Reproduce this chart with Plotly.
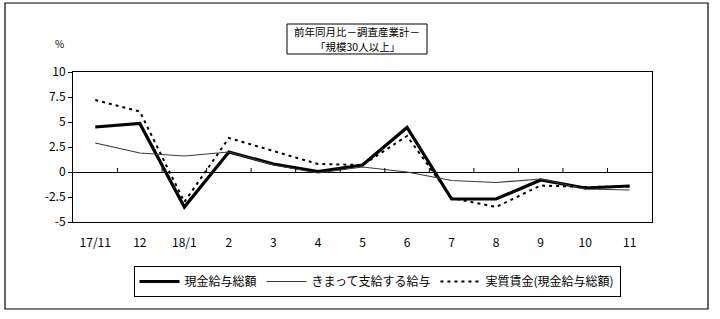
import plotly.graph_objects as go

categories = ["17/11", "12", "18/1", "2", "3", "4", "5", "6", "7", "8", "9", "10", "11"]
genkin = [4.5, 4.85, -3.5, 2.0, 0.8, 0.05, 0.7, 4.45, -2.7, -2.7, -0.8, -1.6, -1.4]
kimatte = [2.9, 1.9, 1.6, 2.0, 0.7, -0.1, 0.5, 0.0, -0.85, -1.05, -0.7, -1.7, -1.8]
jisshitsu = [7.2, 6.05, -3.0, 3.4, 2.1, 0.8, 0.7, 3.6, -2.6, -3.5, -1.35, -1.5, -1.45]
y_ticks = [10, 7.5, 5, 2.5, 0, -2.5, -5]
y_ticktext = ["10", "7.5", "5", "2.5", "0", "-2.5", "-5"]
title_lines = ["前年同月比－調査産業計－", "「規模30人以上」"]

W, H = 720, 319
L, R, T, B = 73, 652, 72, 222
FONT = "Noto Sans CJK JP, Noto Sans, sans-serif"


def px(x):
    return (x - L) / (R - L)


def py(y):
    return (B - y) / (B - T)


xs = list(range(len(categories)))
fig = go.Figure()
fig.add_trace(go.Scatter(x=xs, y=genkin, mode="lines", name="現金給与総額",
                         line=dict(color="black", width=3.2)))
fig.add_trace(go.Scatter(x=xs, y=kimatte, mode="lines", name="きまって支給する給与",
                         line=dict(color="#3a3a3a", width=1.2)))
fig.add_trace(go.Scatter(x=xs, y=jisshitsu, mode="lines", name="実質賃金(現金給与総額)",
                         line=dict(color="black", width=2, dash="3px,4px")))

shapes = [
    dict(type="rect", xref="paper", yref="paper", x0=px(5), x1=px(708), y0=py(309), y1=py(3),
         line=dict(color="black", width=1.2), layer="below"),
    dict(type="rect", xref="paper", yref="paper", x0=px(287), x1=px(427), y0=py(54), y1=py(24),
         line=dict(color="black", width=1), fillcolor="white", layer="below"),
]
for k in range(len(categories) - 1):
    shapes.append(dict(type="line", xref="x", yref="y", x0=k + 0.5, x1=k + 0.5, y0=0, y1=0.4,
                       line=dict(color="black", width=1)))

annotations = [
    dict(text="%", xref="paper", yref="paper", x=px(59), y=py(44), xanchor="center",
         yanchor="middle", showarrow=False, font=dict(size=10)),
]
for i, line in enumerate(title_lines):
    annotations.append(dict(text=line, xref="paper", yref="paper", x=px(357), y=py(31.5 + 15.5 * i),
                            xanchor="center", yanchor="middle", showarrow=False,
                            font=dict(size=10.5), borderpad=0))

fig.update_layout(
    width=W, height=H,
    margin=dict(l=L, r=W - R, t=T, b=H - B),
    paper_bgcolor="white", plot_bgcolor="white",
    font=dict(family=FONT, size=12, color="black"),
    showlegend=True,
    legend=dict(orientation="h", x=px(377), xanchor="center", y=py(266), yanchor="top",
                bordercolor="black", borderwidth=1, bgcolor="white",
                font=dict(size=12), itemwidth=40, tracegroupgap=0),
    xaxis=dict(range=[-0.5, len(categories) - 0.5], tickvals=xs, ticktext=categories,
               showgrid=False, zeroline=False, showline=True, linecolor="black", linewidth=1,
               mirror=True, ticks="", ticklabelstandoff=10, tickfont=dict(size=12)),
    yaxis=dict(range=[-5, 10], tickvals=y_ticks, ticktext=y_ticktext, showgrid=False,
               zeroline=True, zerolinecolor="black", zerolinewidth=1,
               showline=True, linecolor="black", linewidth=1, mirror=True,
               ticks="outside", ticklen=4, tickcolor="black", tickfont=dict(size=12)),
    shapes=shapes,
    annotations=annotations,
)
fig.write_html("out.html")
